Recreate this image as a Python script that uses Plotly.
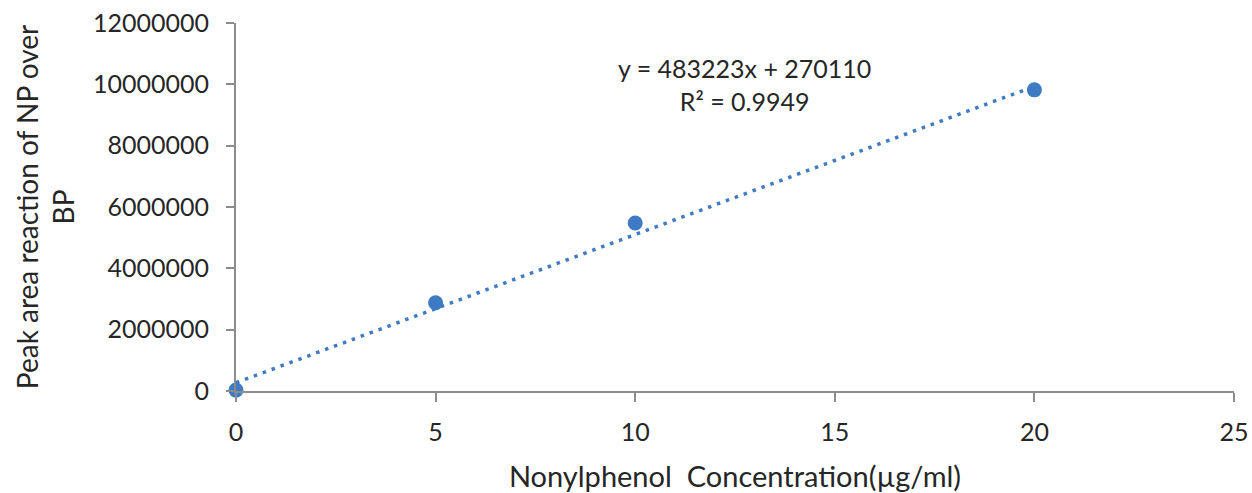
import plotly.graph_objects as go

concentration = [0, 5, 10, 20]
peak_ratio = [30000, 2880000, 5480000, 9820000]
slope = 483223
intercept = 270110
r_squared = 0.9949
x_ticks = [0, 5, 10, 15, 20, 25]
y_ticks = [0, 2000000, 4000000, 6000000, 8000000, 10000000, 12000000]

blue = "#3F7BC4"
axis_grey = "#8C8C8C"
txt = "#262626"
font_family = "Lato, 'Open Sans', sans-serif"

trend_x = [concentration[0], concentration[-1]]
trend_y = [slope * v + intercept for v in trend_x]

fig = go.Figure()
fig.add_trace(go.Scatter(x=trend_x, y=trend_y, mode="lines",
                         line=dict(color=blue, width=3.5, dash="3.5px,6px"),
                         showlegend=False, hoverinfo="skip"))
fig.add_trace(go.Scatter(x=concentration, y=peak_ratio, mode="markers",
                         marker=dict(color=blue, size=15),
                         showlegend=False, cliponaxis=False))

fig.add_annotation(x=12.75, y=10000000, xref="x", yref="y",
                   text=f"y = {slope}x + {intercept}<br>R² = {r_squared}",
                   showarrow=False, align="center",
                   font=dict(family=font_family, size=25, color=txt))

fig.update_xaxes(range=[0, 25], tickvals=x_ticks, ticktext=[str(v) for v in x_ticks],
                 automargin=False, ticklabeloverflow="allow",
                 showgrid=False, zeroline=False, showline=True, linecolor=axis_grey,
                 linewidth=2, ticks="outside", ticklen=9, tickcolor=axis_grey, tickwidth=2,
                 ticklabelstandoff=9,
                 tickfont=dict(family=font_family, size=25, color=txt),
                 title=dict(text="Nonylphenol\u00a0 Concentration(µg/ml)", standoff=24,
                            font=dict(family=font_family, size=29, color=txt)))
fig.update_yaxes(range=[0, 12000000], tickvals=y_ticks, ticktext=[str(v) for v in y_ticks],
                 automargin=False, ticklabeloverflow="allow",
                 showgrid=False, zeroline=False, showline=True, linecolor=axis_grey,
                 linewidth=2, ticks="outside", ticklen=8, tickcolor=axis_grey, tickwidth=2,
                 ticklabelstandoff=12,
                 tickfont=dict(family=font_family, size=25, color=txt),
                 title=dict(text="Peak area reaction of NP over<br>BP", standoff=10,
                            font=dict(family=font_family, size=28, color=txt)))

fig.update_layout(width=1252, height=493, margin=dict(l=236, r=18, t=23, b=102),
                  paper_bgcolor="white", plot_bgcolor="white")

fig.write_html("out.html", config={"displayModeBar": False},
               post_script="document.body.style.margin='0';document.body.style.overflow='hidden';")
